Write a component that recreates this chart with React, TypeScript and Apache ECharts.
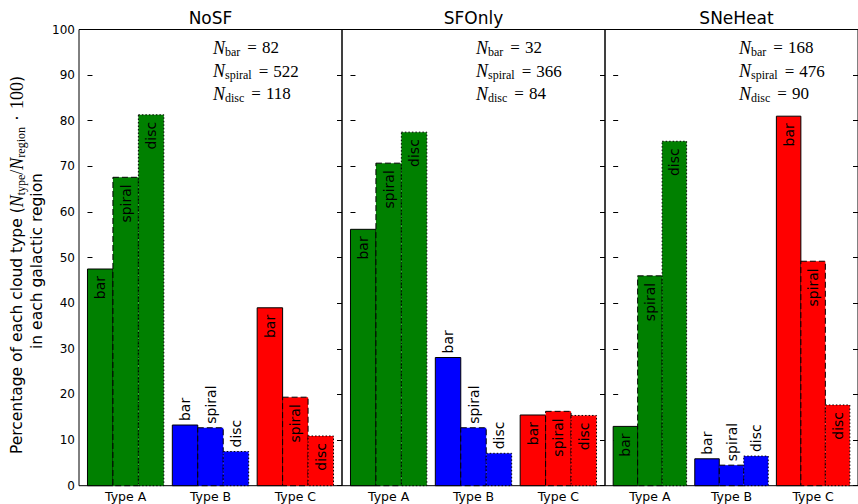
import React, { useEffect, useRef } from "react";
import * as echarts from "echarts";

const panels = ["NoSF", "SFOnly", "SNeHeat"];
const categories = ["Type A", "Type B", "Type C"];
const morphologies = ["bar", "spiral", "disc"];
const yTicks = [0, 10, 20, 30, 40, 50, 60, 70, 80, 90, 100];

// Percentages per panel and morphology, ordered Type A, Type B, Type C
const noSFBar = [47.5, 13.3, 39.0];
const noSFSpiral = [67.6, 12.7, 19.4];
const noSFDisc = [81.3, 7.5, 10.9];
const sfOnlyBar = [56.2, 28.1, 15.5];
const sfOnlySpiral = [70.7, 12.7, 16.3];
const sfOnlyDisc = [77.5, 7.1, 15.4];
const sneHeatBar = [13.0, 5.9, 81.0];
const sneHeatSpiral = [46.0, 4.5, 49.2];
const sneHeatDisc = [75.5, 6.5, 17.7];

// N counts: bar, spiral, disc
const noSFCounts = [82, 522, 118];
const sfOnlyCounts = [32, 366, 84];
const sneHeatCounts = [168, 476, 90];

const panelValues = [
  [noSFBar, noSFSpiral, noSFDisc],
  [sfOnlyBar, sfOnlySpiral, sfOnlyDisc],
  [sneHeatBar, sneHeatSpiral, sneHeatDisc],
];
const panelCounts = [noSFCounts, sfOnlyCounts, sneHeatCounts];

const typeColors = ["#008000", "#0000ff", "#ff0000"];
const borderDashes: any[] = [null, [6, 3], [1.5, 2]];
const BAR_W = 0.3;
const GRID_LEFTS = [79, 342, 605];
const GRID_W = 263;
const GRID_TOP = 29.5;
const GRID_H = 456.2;
const SANS = '"DejaVu Sans", sans-serif';
const SERIF = '"Liberation Serif", serif';

export default function App() {
  const ref = useRef<HTMLDivElement>(null);
  useEffect(() => {
    if (!ref.current) return;
    const chart = echarts.init(ref.current, null, { renderer: "svg" });

    const grid = GRID_LEFTS.map((l) => ({
      left: l,
      top: GRID_TOP,
      width: GRID_W,
      height: GRID_H,
      show: true,
      borderColor: "#000",
      borderWidth: 1,
      backgroundColor: "transparent",
      containLabel: false,
    }));

    const xAxis = panels.map((_, i) => ({
      type: "value",
      gridIndex: i,
      min: -0.1,
      max: 3.0,
      axisLine: { show: false },
      axisTick: { show: false },
      splitLine: { show: false },
      axisLabel: {
        show: true,
        customValues: categories.map((_, k) => k + 1.5 * BAR_W),
        formatter: (v: number) => categories[Math.round(v - 1.5 * BAR_W)] ?? "",
        fontFamily: SANS,
        fontSize: 12.5,
        color: "#000",
        margin: 4,
      },
    }));

    const yAxis: any[] = [];
    panels.forEach((_, i) => {
      yAxis.push({
        type: "value",
        gridIndex: i,
        position: "left",
        min: 0,
        max: 100,
        interval: 10,
        axisLine: { show: false },
        axisTick: { show: true, inside: true, length: 5, lineStyle: { color: "#000" } },
        splitLine: { show: false },
        axisLabel: {
          show: i === 0,
          fontFamily: SANS,
          fontSize: 12,
          color: "#000",
          margin: 4,
          customValues: yTicks,
        },
      });
      yAxis.push({
        type: "value",
        gridIndex: i,
        position: "right",
        min: 0,
        max: 100,
        interval: 10,
        axisLine: { show: false },
        axisTick: { show: true, inside: true, length: 5, lineStyle: { color: "#000" } },
        splitLine: { show: false },
        axisLabel: { show: false },
      });
    });

    const series = panels.map((_, i) => {
      const data: number[][] = [];
      categories.forEach((_, g) => {
        morphologies.forEach((_, s) => {
          data.push([g, s, panelValues[i][s][g]]);
        });
      });
      return {
        type: "custom",
        xAxisIndex: i,
        yAxisIndex: i * 2,
        data,
        renderItem: (params: any, api: any) => {
          const g = api.value(0);
          const s = api.value(1);
          const v = api.value(2);
          const p0 = api.coord([g + s * BAR_W, v]);
          const p1 = api.coord([g + (s + 1) * BAR_W, 0]);
          const x = p0[0];
          const y = p0[1];
          const w = p1[0] - p0[0];
          const h = p1[1] - p0[1];
          const inside = g !== 1;
          return {
            type: "group",
            children: [
              {
                type: "rect",
                shape: { x, y, width: w, height: h },
                style: {
                  fill: typeColors[g],
                  stroke: "#000",
                  lineWidth: 1,
                  lineDash: borderDashes[s],
                },
              },
              {
                type: "text",
                x: x + w / 2,
                y: inside ? y + 7 : y - 4,
                rotation: Math.PI / 2,
                style: {
                  text: morphologies[s],
                  fill: "#000",
                  font: `14px ${SANS}`,
                  align: inside ? "right" : "left",
                  verticalAlign: "middle",
                },
              },
            ],
          };
        },
      };
    });

    const graphic: any[] = [];
    panels.forEach((p, i) => {
      graphic.push({
        type: "text",
        x: GRID_LEFTS[i] + GRID_W / 2,
        y: 18,
        style: { text: p, font: `17px ${SANS}`, fill: "#000", align: "center", verticalAlign: "middle" },
      });
      const ys = [47.5, 71, 93.5];
      morphologies.forEach((m, k) => {
        graphic.push({
          type: "text",
          x: GRID_LEFTS[i] + 134,
          y: ys[k],
          style: {
            text: `{n|N}{s|${m}}{q|=}{e|${panelCounts[i][k]}}`,
            align: "left",
            verticalAlign: "middle",
            fill: "#000",
            rich: {
              n: { fontFamily: SERIF, fontStyle: "italic", fontSize: 18, lineHeight: 20 },
              s: { fontFamily: SERIF, fontSize: 12, lineHeight: 8, verticalAlign: "bottom" },
              q: { fontFamily: SERIF, fontSize: 17, lineHeight: 20, padding: [0, 5, 0, 7] },
              e: { fontFamily: SERIF, fontSize: 17, lineHeight: 20 },
            },
          },
        });
      });
    });

    graphic.push({
      type: "text",
      x: 17,
      y: 265,
      rotation: Math.PI / 2,
      style: {
        text: "{t|Percentage of each cloud type (}{n|N}{s|type}{m|/}{n|N}{s|region}{d|·}{m|100}{t|)}",
        align: "center",
        verticalAlign: "middle",
        fill: "#000",
        rich: {
          t: { fontFamily: SANS, fontSize: 15.5, lineHeight: 20 },
          n: { fontFamily: SERIF, fontStyle: "italic", fontSize: 18, lineHeight: 20 },
          s: { fontFamily: SERIF, fontSize: 12, lineHeight: 8, verticalAlign: "bottom" },
          m: { fontFamily: SERIF, fontSize: 18, lineHeight: 20 },
          d: { fontFamily: SERIF, fontSize: 18, lineHeight: 20, padding: [0, 6, 0, 6] },
        },
      },
    });
    graphic.push({
      type: "text",
      x: 37,
      y: 261,
      rotation: Math.PI / 2,
      style: {
        text: "in each galactic region",
        font: `15.5px ${SANS}`,
        fill: "#000",
        align: "center",
        verticalAlign: "middle",
      },
    });

    chart.setOption({
      animation: false,
      backgroundColor: "#fff",
      grid,
      xAxis,
      yAxis,
      series,
      graphic,
    });
    return () => chart.dispose();
  }, []);
  return (
    <div
      ref={ref}
      style={{ position: "absolute", left: 0, top: 0, width: 858, height: 504 }}
    />
  );
}
